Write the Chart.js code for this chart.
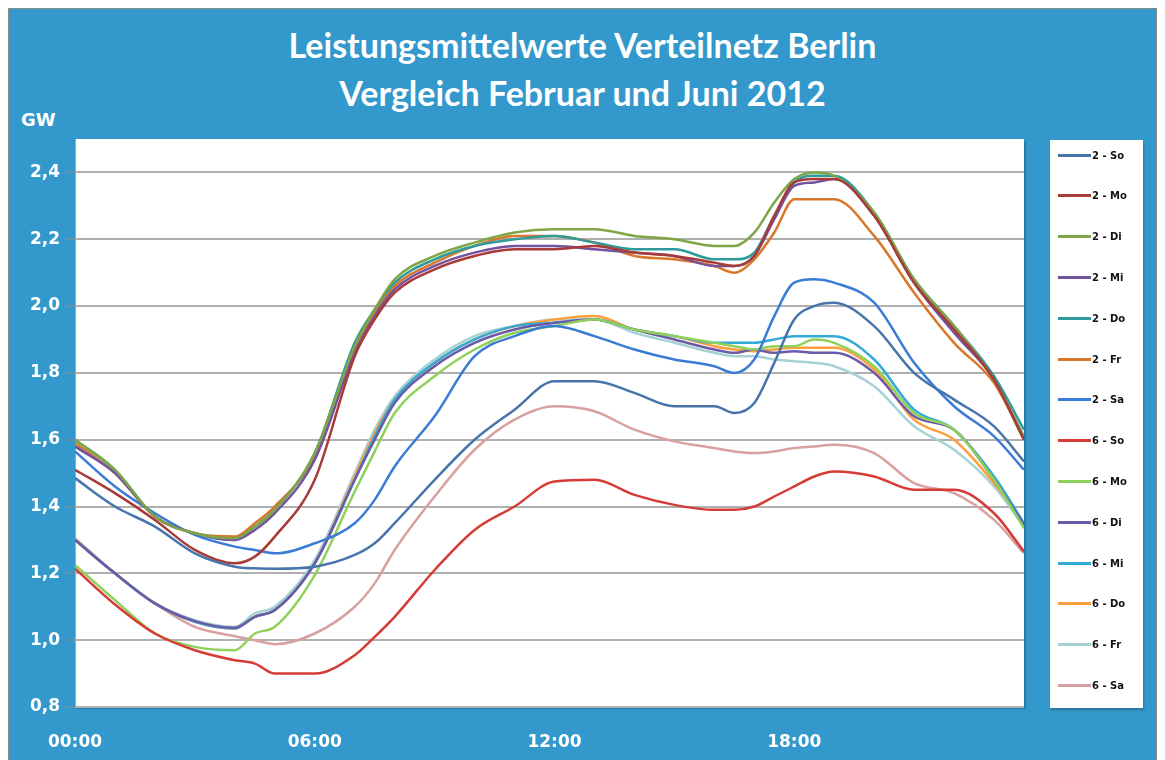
<!DOCTYPE html>
<html lang="de">
<head>
<meta charset="UTF-8">
<title>Leistungsmittelwerte Verteilnetz Berlin</title>
<script src="https://cdn.jsdelivr.net/npm/chart.js@4/dist/chart.umd.min.js"></script>
<style>
  body { margin: 0; background: #fff; width: 1165px; height: 760px; overflow: hidden; position: relative; }
  #frame {
    position: absolute; left: 8px; top: 8px; width: 1149px; height: 760px;
    background: #3398cb; border: 1px solid #8a8a8a; border-bottom: none; box-sizing: border-box;
  }
  #title {
    position: absolute; left: 0; top: 21px; width: 1165px; text-align: center;
    color: #fff; font: bold 34px/48px Lato, "Open Sans", sans-serif;
  }
  #unit {
    position: absolute; left: 21px; top: 109px; color: #fff;
    font: bold 18px "DejaVu Sans", sans-serif;
  }
  #chartBox { position: absolute; left: 0; top: 0; width: 1165px; height: 760px; }
  #legend {
    position: absolute; left: 1050px; top: 140px; width: 93px; height: 568px;
    background: #fff; box-shadow: 1px 2px 2px rgba(0,0,0,0.25);
  }
  .item { position: absolute; left: 8px; height: 14px; display: flex; align-items: center;
    font: bold 10px "DejaVu Sans", sans-serif; color: #111; white-space: nowrap; }
  .item span.line { display: inline-block; width: 33px; height: 3px; margin-right: 1px; }
</style>
</head>
<body>
<div id="frame"></div>
<div id="title">Leistungsmittelwerte Verteilnetz Berlin<br>Vergleich Februar und Juni 2012</div>
<div id="unit">GW</div>
<div id="chartBox"><canvas id="chart"></canvas></div>
<div id="legend"></div>
<script>
const hours = [0,1,2,3,4,4.5,5,6,7,7.5,8,9,10,11,12,13,14,15,16,16.5,17,17.5,18,18.5,19,20,21,22,23,23.75];

// Februar (GW)
const feb_So = [1.485,1.40,1.34,1.26,1.22,1.215,1.214,1.22,1.255,1.29,1.35,1.48,1.60,1.69,1.775,1.775,1.74,1.70,1.70,1.68,1.71,1.83,1.96,2.00,2.01,1.94,1.80,1.72,1.64,1.535];
const feb_Mo = [1.51,1.44,1.36,1.27,1.23,1.25,1.31,1.48,1.85,1.96,2.04,2.11,2.15,2.17,2.17,2.18,2.16,2.15,2.13,2.12,2.15,2.27,2.37,2.38,2.38,2.27,2.07,1.93,1.78,1.60];
const feb_Di = [1.60,1.51,1.37,1.32,1.305,1.34,1.39,1.56,1.88,1.99,2.08,2.15,2.19,2.22,2.23,2.23,2.21,2.20,2.18,2.18,2.22,2.31,2.38,2.40,2.39,2.28,2.08,1.94,1.78,1.61];
const feb_Mi = [1.58,1.50,1.37,1.32,1.30,1.33,1.38,1.54,1.86,1.97,2.05,2.12,2.16,2.18,2.18,2.17,2.16,2.15,2.12,2.12,2.15,2.26,2.36,2.37,2.38,2.27,2.07,1.92,1.78,1.60];
const feb_Do = [1.60,1.51,1.37,1.32,1.30,1.34,1.39,1.56,1.89,1.99,2.07,2.14,2.18,2.20,2.21,2.19,2.17,2.17,2.14,2.14,2.16,2.27,2.37,2.39,2.39,2.28,2.08,1.94,1.79,1.63];
const feb_Fr = [1.59,1.50,1.37,1.32,1.31,1.35,1.40,1.55,1.87,1.98,2.06,2.13,2.18,2.21,2.21,2.19,2.15,2.14,2.12,2.10,2.14,2.22,2.32,2.32,2.32,2.21,2.04,1.89,1.77,1.60];
const feb_Sa = [1.565,1.46,1.38,1.315,1.28,1.27,1.26,1.29,1.35,1.42,1.52,1.67,1.85,1.91,1.94,1.91,1.87,1.84,1.82,1.80,1.84,1.97,2.07,2.08,2.07,2.01,1.83,1.70,1.61,1.51];

// Juni (GW)
const jun_So = [1.214,1.107,1.02,0.97,0.94,0.93,0.90,0.90,0.955,1.01,1.07,1.21,1.33,1.40,1.475,1.48,1.435,1.405,1.39,1.39,1.40,1.43,1.46,1.49,1.505,1.49,1.45,1.45,1.38,1.265];
const jun_Mo = [1.225,1.12,1.02,0.98,0.97,1.02,1.04,1.195,1.445,1.565,1.68,1.79,1.87,1.92,1.94,1.96,1.93,1.91,1.89,1.88,1.87,1.88,1.88,1.90,1.89,1.82,1.68,1.63,1.48,1.335];
const jun_Di = [1.30,1.20,1.11,1.057,1.037,1.07,1.09,1.23,1.48,1.60,1.71,1.82,1.89,1.93,1.95,1.96,1.93,1.90,1.87,1.86,1.87,1.86,1.865,1.86,1.86,1.80,1.67,1.63,1.48,1.345];
const jun_Mi = [1.30,1.20,1.11,1.055,1.035,1.07,1.09,1.23,1.48,1.61,1.72,1.83,1.90,1.94,1.95,1.96,1.93,1.91,1.89,1.89,1.89,1.90,1.91,1.91,1.91,1.84,1.69,1.63,1.49,1.35];
const jun_Do = [1.30,1.20,1.11,1.055,1.035,1.07,1.09,1.23,1.49,1.62,1.72,1.83,1.90,1.94,1.96,1.97,1.93,1.91,1.88,1.87,1.865,1.87,1.875,1.875,1.875,1.81,1.66,1.60,1.47,1.35];
const jun_Fr = [1.30,1.20,1.11,1.06,1.04,1.08,1.10,1.24,1.50,1.63,1.73,1.84,1.91,1.94,1.96,1.96,1.92,1.89,1.86,1.85,1.85,1.84,1.835,1.83,1.82,1.76,1.64,1.57,1.46,1.34];
const jun_Sa = [1.305,1.20,1.11,1.04,1.012,1.00,0.988,1.02,1.10,1.17,1.27,1.43,1.57,1.66,1.70,1.685,1.63,1.595,1.575,1.565,1.56,1.565,1.575,1.58,1.585,1.56,1.47,1.44,1.36,1.26];

const seriesNames = ["2 - So","2 - Mo","2 - Di","2 - Mi","2 - Do","2 - Fr","2 - Sa",
                     "6 - So","6 - Mo","6 - Di","6 - Mi","6 - Do","6 - Fr","6 - Sa"];
const seriesData = [feb_So, feb_Mo, feb_Di, feb_Mi, feb_Do, feb_Fr, feb_Sa,
                    jun_So, jun_Mo, jun_Di, jun_Mi, jun_Do, jun_Fr, jun_Sa];
const seriesColors = ["#4674ab","#a83a37","#7ea647","#7452a0","#2e9a9c","#d9772a","#3a7bd5",
                      "#d63b35","#8fd15a","#6a5aa8","#32aad6","#ff9e3d","#a6d2d6","#d8a09e"];

// x-Achse: nur volle 6 Stunden beschriften
const xTicks = [0, 6, 12, 18];
const yTicks = [0.8, 1.0, 1.2, 1.4, 1.6, 1.8, 2.0, 2.2, 2.4];

const datasets = seriesNames.map((name, i) => ({
  label: name,
  data: hours.map((h, j) => ({ x: h, y: seriesData[i][j] })),
  borderColor: seriesColors[i],
  backgroundColor: seriesColors[i],
  borderWidth: 2.5,
  pointRadius: 0,
  cubicInterpolationMode: "monotone",
  fill: false
}));

// weißer Plotbereich
const plotBg = {
  id: "plotBg",
  beforeDraw(chart) {
    const a = chart.chartArea, c = chart.ctx;
    c.save();
    c.fillStyle = "rgba(0,0,0,0.18)";
    c.fillRect(a.left + 2, a.top + 2, a.right - a.left, a.bottom - a.top);
    c.fillStyle = "#fff";
    c.fillRect(a.left, a.top, a.right - a.left, a.bottom - a.top);
    c.restore();
  }
};

const tickFont = { family: "'DejaVu Sans', sans-serif", size: 17, weight: "bold" };

new Chart(document.getElementById("chart"), {
  type: "line",
  data: { datasets: datasets },
  options: {
    responsive: true,
    maintainAspectRatio: false,
    animation: false,
    layout: { padding: { left: 0, top: 139, right: 141, bottom: 0 } },
    plugins: { legend: { display: false }, tooltip: { enabled: false } },
    scales: {
      x: {
        type: "linear",
        min: 0,
        max: 23.75,
        afterBuildTicks: axis => { axis.ticks = xTicks.map(v => ({ value: v })); },
        afterFit: axis => { axis.height = 53; },
        grid: { display: false },
        border: { display: false },
        ticks: {
          color: "#fff",
          font: tickFont,
          padding: 17,
          maxRotation: 0,
          callback: v => String(v).padStart(2, "0") + ":00"
        }
      },
      y: {
        min: 0.8,
        max: 2.5,
        afterBuildTicks: axis => { axis.ticks = yTicks.map(v => ({ value: v })); },
        afterFit: axis => { axis.width = 75; },
        grid: { color: "#b0b0b0", lineWidth: 2, tickColor: "#8c8c8c", tickLength: 10, tickWidth: 1 },
        border: { display: true, color: "#a8a8a8", width: 1 },
        ticks: {
          color: "#fff",
          font: tickFont,
          padding: 5,
          callback: v => v.toFixed(1).replace(".", ",")
        }
      }
    }
  },
  plugins: [plotBg]
});

// Legende
const legend = document.getElementById("legend");
seriesNames.forEach((name, i) => {
  const d = document.createElement("div");
  d.className = "item";
  d.style.top = (8 + i * 40.8) + "px";
  d.innerHTML = '<span class="line" style="background:' + seriesColors[i] + '"></span>' + name;
  legend.appendChild(d);
});
</script>
</body>
</html>
